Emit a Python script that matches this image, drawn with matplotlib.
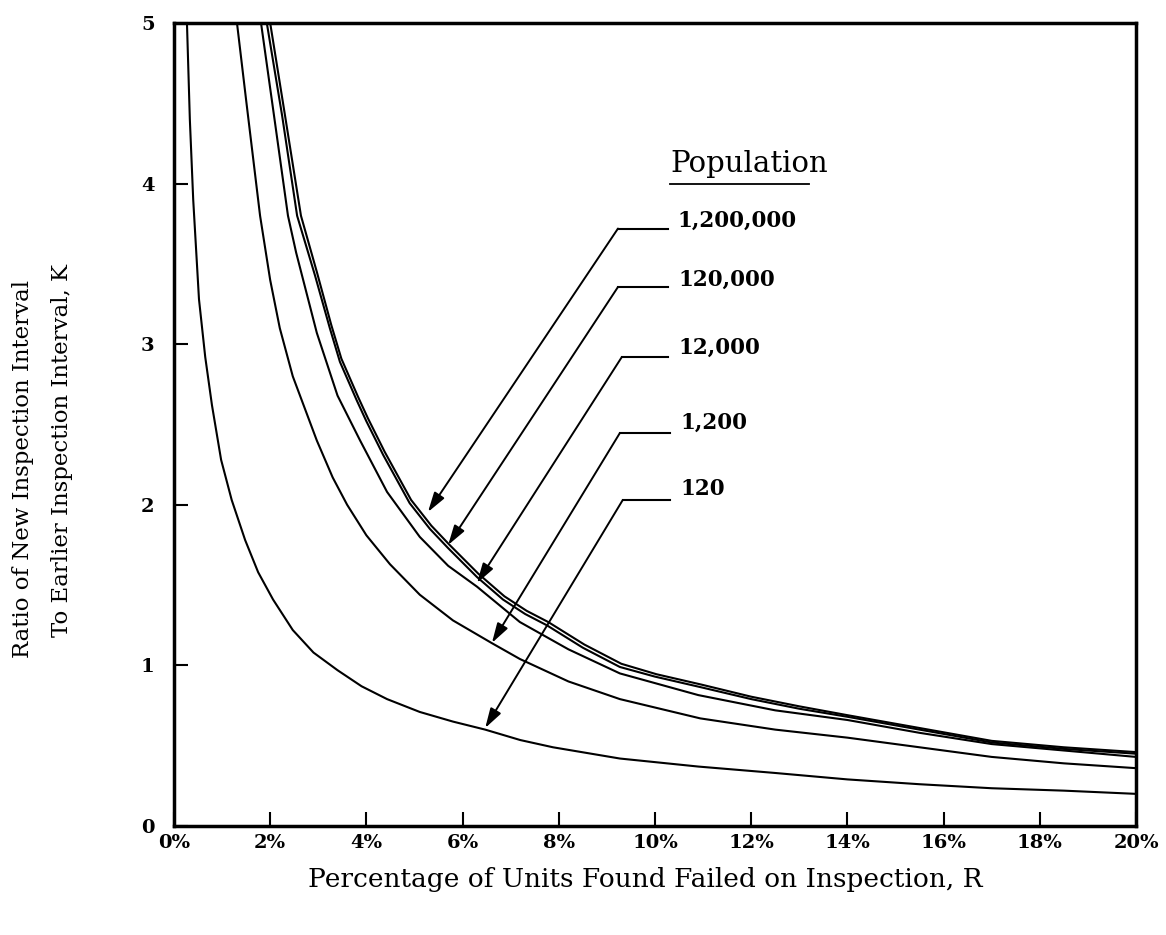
import numpy as np
import matplotlib
import matplotlib.pyplot as plt
matplotlib.rcParams.update({'font.family': 'DejaVu Serif'})

# K versus R (percent failed) for each population size
r_120 = [0.27, 0.33, 0.40, 0.52, 0.65, 0.79, 0.98, 1.2, 1.48, 1.75, 2.06, 2.47, 2.9, 3.4,
         3.9, 4.43, 5.11, 5.8, 6.47, 7.2, 7.88, 9.27, 10.9, 12.5, 14.0, 15.5, 17.0, 18.5, 20.0]
k_120 = [5.0, 4.4, 3.90, 3.28, 2.92, 2.62, 2.28, 2.03, 1.78, 1.58, 1.41, 1.22, 1.08, 0.97,
         0.87, 0.79, 0.71, 0.65, 0.60, 0.535, 0.49, 0.42, 0.37, 0.33, 0.29, 0.26, 0.235, 0.22, 0.20]

r_1200 = [1.31, 1.5, 1.79, 2.0, 2.2, 2.47, 2.97, 3.3, 3.6, 4.0, 4.49, 5.11, 5.8, 6.6,
          7.19, 8.2, 9.27, 10.94, 12.5, 14.0, 15.5, 17.0, 18.5, 20.0]
k_1200 = [5.0, 4.52, 3.80, 3.40, 3.10, 2.80, 2.40, 2.17, 2.00, 1.81, 1.63, 1.44, 1.28, 1.14,
          1.04, 0.90, 0.79, 0.67, 0.60, 0.55, 0.49, 0.43, 0.39, 0.36]

r_12000 = [1.81, 2.1, 2.37, 2.54, 2.97, 3.4, 3.87, 4.43, 5.11, 5.7, 6.3, 7.19, 8.2, 9.27,
           10.9, 12.5, 14.0, 15.5, 17.0, 18.5, 20.0]
k_12000 = [5.0, 4.38, 3.80, 3.57, 3.07, 2.68, 2.40, 2.08, 1.80, 1.62, 1.49, 1.27, 1.10, 0.95,
           0.815, 0.72, 0.66, 0.58, 0.51, 0.47, 0.43]

r_120k = [1.93, 2.25, 2.56, 2.93, 3.24, 3.45, 3.8, 4.0, 4.35, 4.9, 5.32, 5.7, 6.3, 6.84,
          7.3, 7.75, 8.5, 9.27, 10.0, 10.94, 12.0, 13.0, 14.0, 15.5, 17.0, 18.5, 20.0]
k_120k = [5.0, 4.42, 3.80, 3.43, 3.10, 2.89, 2.65, 2.52, 2.31, 2.01, 1.85, 1.73, 1.55, 1.41,
          1.32, 1.25, 1.11, 0.99, 0.93, 0.865, 0.79, 0.73, 0.68, 0.60, 0.52, 0.48, 0.45]

r_1200k = [2.0, 2.3, 2.64, 2.97, 3.27, 3.48, 3.83, 4.03, 4.38, 4.93, 5.35, 5.73, 6.33, 6.87,
           7.33, 7.78, 8.53, 9.3, 10.03, 10.97, 12.0, 13.0, 14.0, 15.5, 17.0, 18.5, 20.0]
k_1200k = [5.0, 4.44, 3.80, 3.45, 3.12, 2.91, 2.67, 2.54, 2.33, 2.03, 1.87, 1.75, 1.57, 1.43,
           1.34, 1.27, 1.13, 1.01, 0.945, 0.88, 0.805, 0.745, 0.69, 0.61, 0.53, 0.49, 0.46]

# label text, label anchor, leader-line elbow, arrow tip
labels = ['1,200,000', '120,000', '12,000', '1,200', '120']
label_xy = [(10.46, 3.77), (10.48, 3.40), (10.48, 2.98), (10.52, 2.51), (10.52, 2.10)]
elbow_xy = [(9.23, 3.72), (9.23, 3.356), (9.31, 2.92), (9.27, 2.447), (9.33, 2.03)]
tip_xy = [(5.28, 1.955), (5.70, 1.75), (6.30, 1.513), (6.61, 1.14), (6.47, 0.61)]

fig = plt.figure(figsize=(11.66, 9.35), dpi=100)
ax = fig.add_axes([0.1492, 0.1166, 0.8251, 0.8588])

for r, k in [(r_120, k_120), (r_1200, k_1200), (r_12000, k_12000),
             (r_120k, k_120k), (r_1200k, k_1200k)]:
    ax.plot(r, k, color='black', lw=1.5)

for txt, (lx, ly), (ex, ey), (tx, ty) in zip(labels, label_xy, elbow_xy, tip_xy):
    ax.plot([ex, lx - 0.2], [ey, ey], color='black', lw=1.5)
    ax.annotate('', xy=(tx, ty), xytext=(ex, ey),
                arrowprops=dict(arrowstyle='-|>,head_length=1.0,head_width=0.3',
                                color='black', lw=1.4, mutation_scale=12,
                                shrinkA=0, shrinkB=0))
    ax.text(lx, ly, txt, fontsize=15.5, fontweight='bold', va='center', ha='left')

ax.text(10.31, 4.12, 'Population', fontsize=21, va='center', ha='left')
ax.plot([10.31, 13.2], [4.0, 4.0], color='black', lw=1.3)

ax.set_xlim(0, 20)
ax.set_ylim(0, 5)
ax.set_xticks(np.arange(0, 21, 2))
ax.set_xticklabels([f'{v}%' for v in range(0, 21, 2)])
ax.set_yticks(range(6))
ax.tick_params(direction='in', length=10, width=1.5, labelsize=14, pad=6)
ax.tick_params(axis='y', pad=14)
for lab in ax.get_xticklabels() + ax.get_yticklabels():
    lab.set_fontweight('bold')
for s in ax.spines.values():
    s.set_linewidth(2.5)

fig.text(0.553, 0.059, 'Percentage of Units Found Failed on Inspection, R',
         fontsize=19, ha='center', va='center')
fig.text(0.0197, 0.498, 'Ratio of New Inspection Interval',
         fontsize=16.5, rotation=90, ha='center', va='center')
fig.text(0.053, 0.518, 'To Earlier Inspection Interval, K',
         fontsize=16.5, rotation=90, ha='center', va='center')

plt.savefig('out.png')
